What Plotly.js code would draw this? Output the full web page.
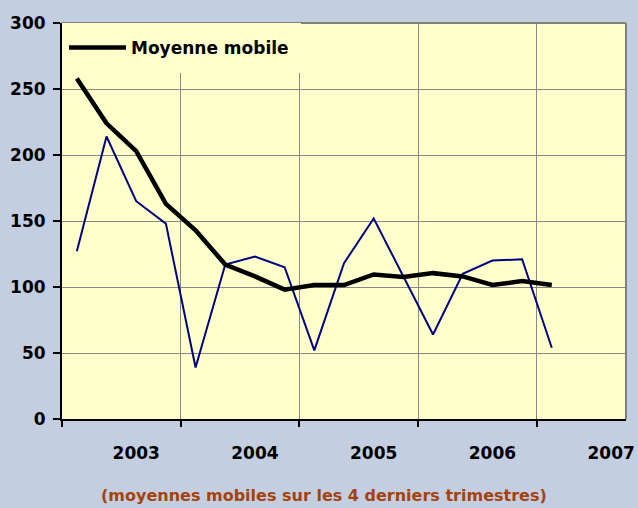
<!DOCTYPE html>
<html>
<head>
<meta charset="utf-8">
<script src="https://cdn.plot.ly/plotly-3.0.1.min.js"></script>
<style>
  html, body { margin: 0; padding: 0; background: #c3cee0; }
  #chart { width: 638px; height: 508px; }
</style>
</head>
<body>
<div id="chart"></div>
<script>
// Quarter positions (category index on the time axis)
const quarterIndex = [0, 1, 2, 3, 4, 5, 6, 7, 8, 9, 10, 11, 12, 13, 14, 15, 16];
// Quarterly values (thin blue line)
const quarterlyValues = [127, 214, 165, 148, 39, 117, 123, 115, 52, 118, 152, 108, 64, 110, 120, 121, 54];
// Moving average over the last 4 quarters (thick black line)
const movingAverage = [258, 224, 203, 163, 143, 117, 108, 98, 101.5, 101.5, 109.5, 107.5, 110.5, 108, 101.5, 104.5, 101.5];
// Year tick labels and their category positions
const yearLabels = ['2003', '2004', '2005', '2006', '2007'];
const yearPositions = [2, 6, 10, 14, 18];
// Year boundaries (gridlines / tick marks)
const yearBoundaries = [-0.5, 3.5, 7.5, 11.5, 15.5];
const yTicks = [0, 50, 100, 150, 200, 250, 300];
const subtitle = '(moyennes mobiles sur les 4 derniers trimestres)';

const font = 'DejaVu Sans, sans-serif';

const traces = [
  {
    x: quarterIndex, y: quarterlyValues, type: 'scatter', mode: 'lines',
    name: 'Trimestre', showlegend: false,
    line: { color: '#000080', width: 2 }, xaxis: 'x', yaxis: 'y'
  },
  {
    x: quarterIndex, y: movingAverage, type: 'scatter', mode: 'lines',
    name: 'Moyenne mobile',
    line: { color: '#000000', width: 4.5 }, xaxis: 'x', yaxis: 'y'
  },
  {
    // carrier for the year label axis (no visible marks)
    x: yearPositions, y: yearPositions.map(() => null), type: 'scatter', mode: 'lines',
    showlegend: false, hoverinfo: 'skip', xaxis: 'x2', yaxis: 'y'
  }
];

const layout = {
  width: 638, height: 508,
  paper_bgcolor: '#c3cee0',
  plot_bgcolor: '#ffffcc',
  margin: { l: 62, r: 12, t: 23, b: 89 },
  font: { family: font, color: '#000', size: 17 },
  showlegend: true,
  legend: {
    x: 0, y: 1, xanchor: 'left', yanchor: 'top',
    bgcolor: '#ffffcc', bordercolor: '#ffffcc', borderwidth: 7,
    font: { family: font, size: 17, weight: 'bold', color: '#000' },
    itemwidth: 59, tracegroupgap: 0, indentation: -7
  },
  xaxis: {
    range: [-0.5, 18.5], fixedrange: true,
    tickmode: 'array', tickvals: yearBoundaries, ticktext: yearBoundaries.map(() => ''),
    ticks: 'outside', ticklen: 6, tickwidth: 2, tickcolor: '#000',
    showline: true, linecolor: '#000', linewidth: 2,
    showgrid: true, gridcolor: '#888888', gridwidth: 1, zeroline: false
  },
  xaxis2: {
    overlaying: 'x', anchor: 'y', side: 'bottom',
    range: [-0.5, 18.5], fixedrange: true,
    tickmode: 'array', tickvals: yearPositions, ticktext: yearLabels,
    ticks: 'outside', ticklen: 19, tickcolor: 'rgba(0,0,0,0)',
    showline: false, showgrid: false, zeroline: false,
    tickfont: { family: font, size: 17, weight: 'bold', color: '#000' }
  },
  yaxis: {
    range: [0, 300], fixedrange: true,
    tickmode: 'array', tickvals: yTicks,
    ticks: 'outside', ticklen: 7, tickwidth: 2, tickcolor: '#000',
    ticklabelstandoff: 4,
    showline: true, linecolor: '#000', linewidth: 2,
    showgrid: true, gridcolor: '#888888', gridwidth: 1, zeroline: false,
    tickfont: { family: font, size: 17, weight: 'bold', color: '#000' }
  },
  annotations: [
    { text: subtitle, xref: 'paper', yref: 'paper', x: 0.4645, y: -0.192,
      xanchor: 'center', yanchor: 'middle', showarrow: false,
      font: { family: font, size: 16, weight: 'bold', color: '#a5420c' } }
  ],
  shapes: [
    { type: 'line', xref: 'paper', yref: 'paper', x0: 0, x1: 1, y0: 1, y1: 1,
      line: { color: '#808080', width: 2 } },
    { type: 'line', xref: 'paper', yref: 'paper', x0: 1, x1: 1, y0: 0, y1: 1,
      line: { color: '#808080', width: 2 } }
  ]
};

Plotly.newPlot('chart', traces, layout, { displayModeBar: false, staticPlot: true });
</script>
</body>
</html>
